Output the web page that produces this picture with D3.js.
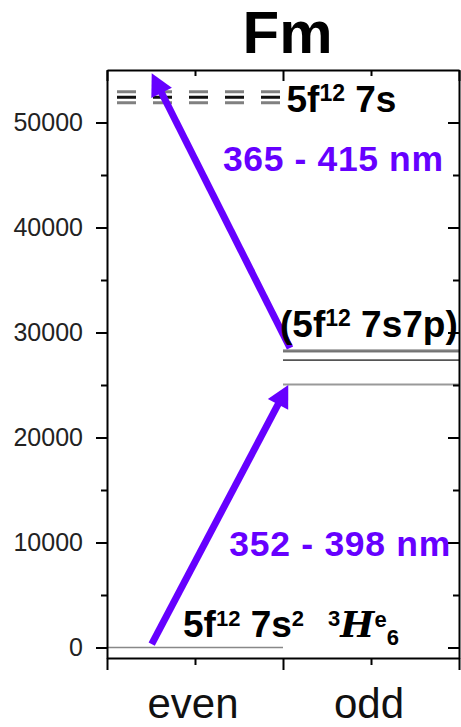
<!DOCTYPE html>
<html>
<head>
<meta charset="utf-8">
<script src="https://cdn.jsdelivr.net/npm/d3@7"></script>
<style>
  body { margin: 0; background: #fff; }
  svg text { white-space: pre; }
</style>
</head>
<body>
<div id="chart"></div>
<script>
const categories = ["even", "odd"];
const yTicks = [0, 10000, 20000, 30000, 40000, 50000];
const yMinor = [5000, 15000, 25000, 35000, 45000];
const groundLevels = [0];
const evenUpperLevels = [52920, 52410, 51880];
const oddLevels = [28320, 28160, 27360, 25050];
// arrows: [x, energy] -> [x, energy], x is the parity axis (0..2)
const arrowFrom = [[0.254, 330], [1.04, 28520]];
const arrowTo = [[1.03, 25000], [0.254, 54700]];

const width = 461, height = 727;
const purple = "#6600ff";

const svg = d3.select("#chart").append("svg")
  .attr("width", width)
  .attr("height", height)
  .style("font-family", "'Liberation Sans', Arial, sans-serif");

const x = d3.scaleLinear().domain([0, 2]).range([107, 459]);
const y = d3.scaleLinear().domain([-1000, 55000]).range([658, 70]);

/* title */
svg.append("text")
  .attr("x", 287.5).attr("y", 53)
  .attr("text-anchor", "middle")
  .style("font-size", "60px").style("font-weight", "bold")
  .text("Fm");

/* levels */
svg.append("g").selectAll("line")
  .data(groundLevels).enter().append("line")
  .attr("x1", x(0)).attr("x2", x(1))
  .attr("y1", d => y(d)).attr("y2", d => y(d))
  .attr("stroke", "#888").attr("stroke-width", 1.5);

const evenColors = ["#808080", "#111", "#808080"];
svg.append("g").selectAll("line")
  .data(evenUpperLevels).enter().append("line")
  .attr("x1", x(0)).attr("x2", x(1))
  .attr("y1", d => y(d)).attr("y2", d => y(d))
  .attr("stroke", (d, i) => evenColors[i])
  .attr("stroke-width", 3)
  .attr("stroke-dasharray", "19,17")
  .attr("stroke-dashoffset", 26);

const oddColors = ["#333", "#333", "#555", "#999"];
const oddWidths = [1, 1, 1.8, 2];
svg.append("g").selectAll("line")
  .data(oddLevels).enter().append("line")
  .attr("x1", x(1)).attr("x2", x(2))
  .attr("y1", d => y(d)).attr("y2", d => y(d))
  .attr("stroke", (d, i) => oddColors[i])
  .attr("stroke-width", (d, i) => oddWidths[i]);

/* axes */
function styleAxis(g) {
  g.selectAll("path, line").attr("stroke", "#000").attr("stroke-width", 2);
  g.selectAll("text").style("font-size", "25px").attr("fill", "#222")
    .style("font-family", "'Liberation Sans', Arial, sans-serif");
}

svg.append("g").attr("transform", `translate(${x(0)},0)`)
  .call(d3.axisLeft(y).tickValues(yTicks).tickSize(11).tickSizeOuter(0).tickPadding(13).tickFormat(d3.format("d")))
  .call(styleAxis);
svg.append("g").attr("transform", `translate(${x(0)},0)`)
  .call(d3.axisLeft(y).tickValues(yMinor).tickSize(6).tickFormat(""))
  .call(g => g.select(".domain").remove())
  .call(styleAxis);

// right mirror, ticks inward
svg.append("g").attr("transform", `translate(${x(2)},0)`)
  .call(d3.axisLeft(y).tickValues(yTicks).tickSize(11).tickSizeOuter(0).tickFormat(""))
  .call(styleAxis);
svg.append("g").attr("transform", `translate(${x(2)},0)`)
  .call(d3.axisLeft(y).tickValues(yMinor).tickSize(6).tickFormat(""))
  .call(g => g.select(".domain").remove())
  .call(styleAxis);

// bottom
svg.append("g").attr("transform", `translate(0,${y(-1000)})`)
  .call(d3.axisBottom(x).tickValues([0, 1, 2]).tickSize(12).tickSizeOuter(0).tickFormat(""))
  .call(styleAxis);
svg.append("g").attr("transform", `translate(0,${y(-1000)})`)
  .call(d3.axisBottom(x).tickValues([0.5, 1.5]).tickSize(7).tickFormat(""))
  .call(g => g.select(".domain").remove())
  .call(styleAxis);
// top mirror, ticks inward
svg.append("g").attr("transform", `translate(0,${y(55000)})`)
  .call(d3.axisBottom(x).tickValues([0, 1, 2]).tickSize(11).tickSizeOuter(0).tickFormat(""))
  .call(styleAxis);
svg.append("g").attr("transform", `translate(0,${y(55000)})`)
  .call(d3.axisBottom(x).tickValues([0.5, 1.5]).tickSize(6).tickFormat(""))
  .call(g => g.select(".domain").remove())
  .call(styleAxis);

svg.append("g").selectAll("text")
  .data(categories).enter().append("text")
  .attr("x", (d, i) => x(i + 0.5) - 2)
  .attr("y", 718)
  .attr("text-anchor", "middle")
  .style("font-size", "42px").attr("fill", "#111")
  .text(d => d);

/* arrows */
const headLen = 22, headHalf = 11.5;
arrowFrom.forEach((f, i) => {
  const x0 = x(f[0]), y0 = y(f[1]);
  const x1 = x(arrowTo[i][0]), y1 = y(arrowTo[i][1]);
  const len = Math.hypot(x1 - x0, y1 - y0);
  const ux = (x1 - x0) / len, uy = (y1 - y0) / len;
  const bx = x1 - ux * headLen, by = y1 - uy * headLen;
  svg.append("line")
    .attr("x1", x0).attr("y1", y0)
    .attr("x2", bx + ux * 4).attr("y2", by + uy * 4)
    .attr("stroke", purple).attr("stroke-width", 7);
  svg.append("path")
    .attr("d", `M${x1},${y1}L${bx - uy * headHalf},${by + ux * headHalf}L${bx + uy * headHalf},${by - ux * headHalf}Z`)
    .attr("fill", purple);
});

/* labels */
function richText(px, py, parts, opts) {
  const t = svg.append("text")
    .attr("x", px).attr("y", py)
    .style("font-weight", "bold")
    .style("font-size", (opts.size || 37) + "px")
    .attr("fill", opts.fill || "#000");
  if (opts.textLength) t.attr("textLength", opts.textLength).attr("lengthAdjust", "spacing");
  let shift = 0;
  parts.forEach(p => {
    const target = p.shift || 0;
    const ts = t.append("tspan")
      .attr("dy", target - shift)
      .text(p.t);
    if (p.dx) ts.attr("dx", p.dx);
    if (p.size) ts.style("font-size", p.size + "px");
    if (p.family) ts.style("font-family", p.family);
    if (p.italic) ts.style("font-style", "italic");
    shift = target;
  });
  return t;
}

richText(x(1.02), y(51000), [
  { t: "5f" }, { t: "12", size: 23, shift: -11 }, { t: " 7s" }
], {});

richText(x(0.659), y(45380), [{ t: "365 - 415 nm" }], { size: 35.5, fill: purple, textLength: 220 });

richText(x(0.983), y(29570), [
  { t: "(5f" }, { t: "12", size: 23, shift: -11 }, { t: " 7s7p)" }
], {});

richText(x(0.695), y(8710), [{ t: "352 - 398 nm" }], { size: 35.5, fill: purple, textLength: 221 });

richText(x(0.432), y(1000), [
  { t: "5f" }, { t: "12", size: 22, shift: -11 }, { t: " 7s" },
  { t: "2", size: 22, shift: -11 },
  { t: "3", size: 22, shift: -11, dx: 24 },
  { t: "H", family: "'DejaVu Serif', 'Liberation Serif', serif", italic: true, size: 36 },
  { t: "e", size: 22, shift: -10 },
  { t: "6", size: 22, shift: 8 }
], {});
</script>
</body>
</html>
